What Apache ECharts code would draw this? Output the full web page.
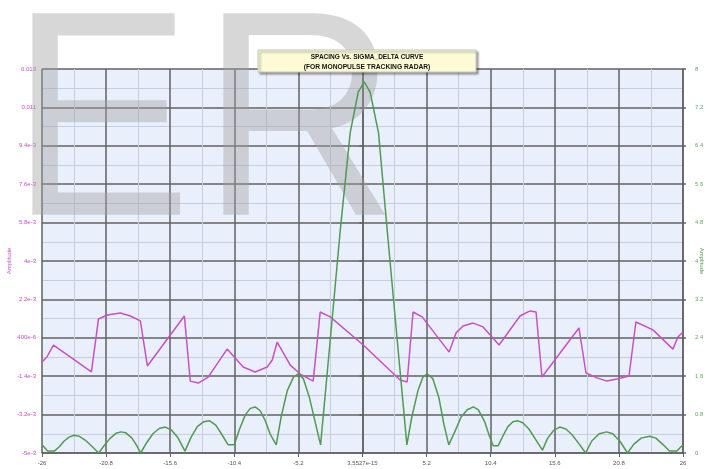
<!DOCTYPE html>
<html>
<head>
<meta charset="utf-8">
<script src="https://cdn.jsdelivr.net/npm/echarts@6/dist/echarts.min.js"></script>
<style>
  html, body { margin: 0; padding: 0; background: #ffffff; }
  #chart { width: 711px; height: 469px; }
</style>
</head>
<body>
<div id="chart"></div>
<script>
// Axis tick labels
const xTickLabels = ['-26', '-20.8', '-15.6', '-10.4', '-5.2', '3.5527e-15', '5.2', '10.4', '15.6', '20.8', '26'];
const leftTickValues = [-0.005, -0.0032, -0.0014, 0.0004, 0.0022, 0.004, 0.0058, 0.0076, 0.0094, 0.0112, 0.013];
const leftTickLabels = ['-5e-3', '-3.2e-3', '-1.4e-3', '400e-6', '2.2e-3', '4e-3', '5.8e-3', '7.6e-3', '9.4e-3', '0.011', '0.013'];
const rightTickLabels = ['0', '0.8', '1.6', '2.4', '3.2', '4', '4.8', '5.6', '6.4', '7.2', '8'];

// Delta curve (left axis)
const deltaX = [-26, -25.6, -25.07, -21.99, -21.42, -20.69, -19.64, -18.83, -18.02, -17.45, -14.45, -13.97,
  -13.32, -12.52, -10.98, -9.68, -8.71, -7.73, -7.32, -6.92, -5.86, -5.05, -4.0, -3.43, -2.62, 0.06,
  3.05, 3.62, 4.10, 4.84, 7.03, 7.59, 8.16, 8.97, 9.78, 11.08, 12.78, 13.59, 14.08, 14.56, 17.56,
  18.13, 19.02, 19.83, 20.64, 21.62, 22.18, 23.56, 25.18, 25.59, 26];
const deltaY = [-0.00073, -0.0005, 0.00006, -0.0012, 0.00128, 0.00147, 0.00156, 0.00142, 0.00119, -0.00092, 0.00142, -0.00163,
  -0.00172, -0.00144, -0.00013, -0.00097, -0.0012, -0.00097, -0.00064, 0.0002, -0.00088, -0.0013, -0.00163, 0.00161, 0.00138, 0.00006,
  -0.00158, -0.00167, 0.00161, 0.00138, -0.00027, 0.00063, 0.00095, 0.00109, 0.00091, 0.00006, 0.00142, 0.00166, 0.00161, -0.00144, 0.00086,
  -0.00125, -0.00148, -0.00163, -0.00153, -0.00139, 0.00114, 0.00077, -0.00013, 0.00044, 0.00067];

// Sum pattern (right axis)
const sumX = [-26, -25.55, -25.0, -24.6, -24.2, -23.8, -23.4, -23.0, -22.5, -22.0, -21.4,
  -21.0, -20.5, -20.0, -19.6, -19.2, -18.7, -18.3, -18.0,
  -17.5, -17.0, -16.5, -16.0, -15.5, -15.0, -14.4,
  -13.9, -13.4, -12.9, -12.4, -11.9, -11.4, -10.9, -10.4,
  -10.0, -9.5, -9.1, -8.7, -8.3, -7.9, -7.5, -7.0,
  -6.6, -6.1, -5.6, -5.2, -4.8, -4.3, -3.8, -3.4,
  -2.6, -1.8, -1.0, -0.35, 0.14, 0.62, 1.3, 2.0, 2.8, 3.6,
  4.0, 4.5, 4.9, 5.25, 5.7, 6.2, 6.6, 7.0,
  7.5, 8.0, 8.5, 9.0, 9.4, 9.9, 10.3, 10.6, 11.0,
  11.4, 11.8, 12.2, 12.6, 13.0, 13.5, 14.0, 14.6,
  15.0, 15.5, 16.0, 16.5, 17.0, 17.6, 18.1,
  18.6, 19.2, 19.8, 20.3, 20.9, 21.5,
  22.0, 22.6, 23.3, 23.8, 24.4, 24.9, 25.5, 26.0];
const sumY = [0.17, 0.04, 0.04, 0.13, 0.25, 0.33, 0.37, 0.35, 0.27, 0.15, 0.0,
  0.14, 0.30, 0.41, 0.44, 0.42, 0.31, 0.15, 0.0,
  0.22, 0.40, 0.51, 0.54, 0.48, 0.33, 0.04,
  0.33, 0.55, 0.65, 0.67, 0.58, 0.38, 0.17, 0.17,
  0.48, 0.80, 0.93, 0.96, 0.88, 0.68, 0.40, 0.17,
  0.75, 1.30, 1.58, 1.65, 1.55, 1.15, 0.60, 0.17,
  2.40, 4.65, 6.67, 7.52, 7.73, 7.52, 6.67, 4.65, 2.40, 0.17,
  0.75, 1.30, 1.58, 1.65, 1.55, 1.15, 0.60, 0.17,
  0.45, 0.75, 0.90, 0.96, 0.90, 0.66, 0.35, 0.15, 0.15,
  0.36, 0.55, 0.65, 0.67, 0.63, 0.50, 0.30, 0.06,
  0.30, 0.47, 0.54, 0.50, 0.38, 0.18, 0.0,
  0.25, 0.40, 0.44, 0.40, 0.24, 0.0,
  0.18, 0.31, 0.35, 0.31, 0.17, 0.04, 0.04, 0.17];

const titleLines = ['SPACING Vs. SIGMA_DELTA CURVE', '(FOR MONOPULSE TRACKING RADAR)'];

const MAJOR = '#626262';
const MINOR = '#c6cedd';
const MAGENTA = '#c84fc8';
const GREEN = '#4f9a53';
const FONT = '"Liberation Sans", Arial, sans-serif';
const MARK_FONT = '293px "Liberation Sans", Arial, sans-serif';
const MARK_FILL = 'rgba(160,160,160,0.42)';

const pairs = (xs, ys) => xs.map((x, i) => [x, ys[i]]);
const nearestIndex = (vals, v) => {
  let best = 0;
  vals.forEach((t, i) => { if (Math.abs(t - v) < Math.abs(vals[best] - v)) best = i; });
  return best;
};

const chart = echarts.init(document.getElementById('chart'), null, { renderer: 'canvas' });

chart.setOption({
  animation: false,
  backgroundColor: '#ffffff',
  textStyle: { fontFamily: FONT },
  grid: {
    left: 42, right: 28, top: 69, bottom: 16,
    containLabel: false, outerBoundsMode: 'none',
    show: true, backgroundColor: '#eaf0fb', borderWidth: 0
  },
  xAxis: {
    type: 'value', min: -26, max: 26, interval: 5.2,
    axisLine: { show: true, onZero: false, lineStyle: { color: MAJOR, width: 1.5 } },
    axisTick: { show: true, length: 4, lineStyle: { color: MAJOR } },
    axisLabel: {
      fontSize: 6, color: '#555555', margin: 7, fontFamily: FONT,
      formatter: v => xTickLabels[Math.round((v + 26) / 5.2)]
    },
    splitLine: { show: true, lineStyle: { color: MAJOR, width: 1.5 } },
    minorTick: { show: false, splitNumber: 2 },
    minorSplitLine: { show: true, lineStyle: { color: MINOR, width: 1 } }
  },
  yAxis: [
    {
      type: 'value', position: 'left', min: -0.005, max: 0.013,
      name: 'Amplitude', nameLocation: 'middle', nameGap: 30, nameRotate: 90, nameMoveOverlap: false,
      nameTextStyle: { color: MAGENTA, fontSize: 6, fontFamily: FONT },
      axisLine: { show: true, lineStyle: { color: MAJOR, width: 1.5 } },
      axisTick: { show: true, length: 3, customValues: leftTickValues, lineStyle: { color: MAJOR, width: 1.5 } },
      axisLabel: {
        customValues: leftTickValues, fontSize: 6, color: MAGENTA, margin: 6, fontFamily: FONT,
        formatter: v => leftTickLabels[nearestIndex(leftTickValues, v)]
      },
      splitLine: { show: false }
    },
    {
      type: 'value', position: 'right', min: 0, max: 8, interval: 0.8,
      name: 'Amplitude', nameLocation: 'middle', nameGap: 16, nameRotate: -90, nameMoveOverlap: false,
      nameTextStyle: { color: GREEN, fontSize: 6, fontFamily: FONT },
      axisLine: { show: true, lineStyle: { color: MAJOR, width: 1.5 } },
      axisTick: { show: true, length: 3, lineStyle: { color: MAJOR, width: 1.5 } },
      axisLabel: {
        fontSize: 6, color: '#6aa86a', margin: 12, fontFamily: FONT,
        formatter: v => rightTickLabels[Math.round(v / 0.8)]
      },
      splitLine: { show: true, lineStyle: { color: MAJOR, width: 1.5 } },
      minorTick: { show: false, splitNumber: 2 },
      minorSplitLine: { show: true, lineStyle: { color: MINOR, width: 1 } }
    }
  ],
  series: [
    {
      type: 'line', yAxisIndex: 0, data: pairs(deltaX, deltaY),
      symbol: 'none', z: 3,
      lineStyle: { color: MAGENTA, width: 1.5 }
    },
    {
      type: 'line', yAxisIndex: 1, data: pairs(sumX, sumY),
      symbol: 'none', z: 3,
      lineStyle: { color: GREEN, width: 1.5 }
    }
  ],
  graphic: [
    {
      type: 'text', z: 1, x: 10, y: 134, scaleX: 0.93, silent: true,
      style: { text: 'E', font: MARK_FONT, fill: MARK_FILL, textAlign: 'left', verticalAlign: 'middle' }
    },
    {
      type: 'text', z: 1, x: 201, y: 134, scaleX: 0.93, silent: true,
      style: { text: 'R', font: MARK_FONT, fill: MARK_FILL, textAlign: 'left', verticalAlign: 'middle' }
    },
    {
      type: 'group', z: 10,
      children: [
        {
          type: 'rect', z: 10,
          shape: { x: 258, y: 50, width: 218, height: 22 },
          style: {
            fill: '#fcfbd6', stroke: '#c4c4c4', lineWidth: 1,
            shadowColor: 'rgba(0,0,0,0.35)', shadowBlur: 2, shadowOffsetX: 2, shadowOffsetY: 2
          }
        },
        {
          type: 'text', z: 11, x: 367, y: 57,
          style: {
            text: titleLines[0], font: 'bold 6.5px "Liberation Sans", Arial, sans-serif',
            fill: '#111111', textAlign: 'center', verticalAlign: 'middle'
          }
        },
        {
          type: 'text', z: 11, x: 367, y: 67,
          style: {
            text: titleLines[1], font: 'bold 6.7px "Liberation Sans", Arial, sans-serif',
            fill: '#111111', textAlign: 'center', verticalAlign: 'middle'
          }
        }
      ]
    }
  ]
});
</script>
</body>
</html>
